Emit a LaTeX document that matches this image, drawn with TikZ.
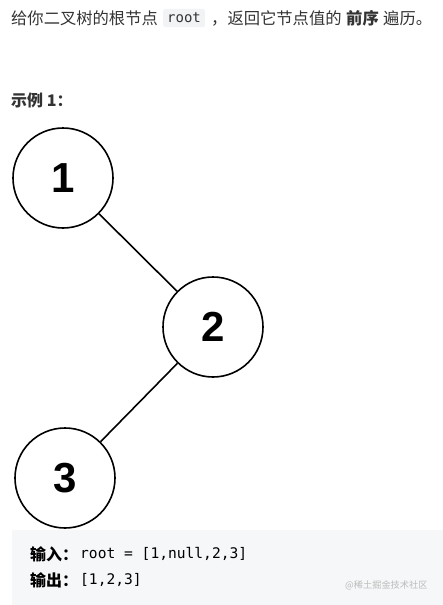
\documentclass[tikz,border=0pt]{standalone}
\usepackage{fontspec}
\setmainfont{Noto Sans CJK SC}
\setmonofont{DejaVu Sans Mono}
\newfontfamily\digitfont{Liberation Sans}
\definecolor{textgray}{HTML}{333333}
\definecolor{codegray}{HTML}{F2F3F5}
\definecolor{boxgray}{HTML}{F6F7F8}
\definecolor{markgray}{HTML}{BBBBBB}
\begin{document}
\begin{tikzpicture}[x=1pt, y=-1pt,
    txt/.style={anchor=west, inner sep=0pt, text=textgray, font=\fontsize{16.3}{19}\selectfont},
    code/.style={anchor=west, inner xsep=4pt, inner ysep=4pt, rounded corners=2pt, fill=codegray, text=textgray, font=\ttfamily\fontsize{14}{17}\selectfont},
    mono/.style={anchor=west, inner sep=0pt, text=black, font=\ttfamily\fontsize{14.6}{17}\selectfont},
    treenode/.style={circle, draw, line width=1.6pt, minimum size=100pt, inner sep=0pt, font=\digitfont\bfseries\fontsize{42}{46}\selectfont}]

    \useasboundingbox (0,0) rectangle (443,605);

    % question
    \node[txt] (q-1) at (11,18) {给你二叉树的根节点};
    \node[code] (q-2) at (163,18) {root};
    \node[txt] (q-3) at (211,18) {，返回它节点值的};
    \node[txt, font=\fontsize{16.3}{19}\selectfont\bfseries] (q-4) at (346,18) {前序};
    \node[txt] (q-5) at (383,18) {遍历。};

    \node[txt, font=\fontsize{16}{19}\selectfont\bfseries] (ex) at (11,100) {示例 1：};

    % tree
    \node (n-1) at (63,178) [treenode] {1};
    \node (n-2) at (213,327) [treenode] {2};
    \node (n-3) at (65,478) [treenode] {3};

    \draw[line width=1.6pt] (n-1) -- (n-2);
    \draw[line width=1.6pt] (n-2) -- (n-3);

    % example box
    \fill[boxgray] (12,530) rectangle (443,605);

    \node[txt, text=black, font=\fontsize{16}{19}\selectfont\bfseries] (in-1) at (30,554) {输入：};
    \node[mono] (in-2) at (80,554) {root = [1,null,2,3]};
    \node[txt, text=black, font=\fontsize{16}{19}\selectfont\bfseries] (out-1) at (30,580) {输出：};
    \node[mono] (out-2) at (80,580) {[1,2,3]};

    \node[txt, text=markgray, font=\fontsize{9.2}{11}\selectfont] (mark) at (345,585) {@稀土掘金技术社区};

\end{tikzpicture}
\end{document}
